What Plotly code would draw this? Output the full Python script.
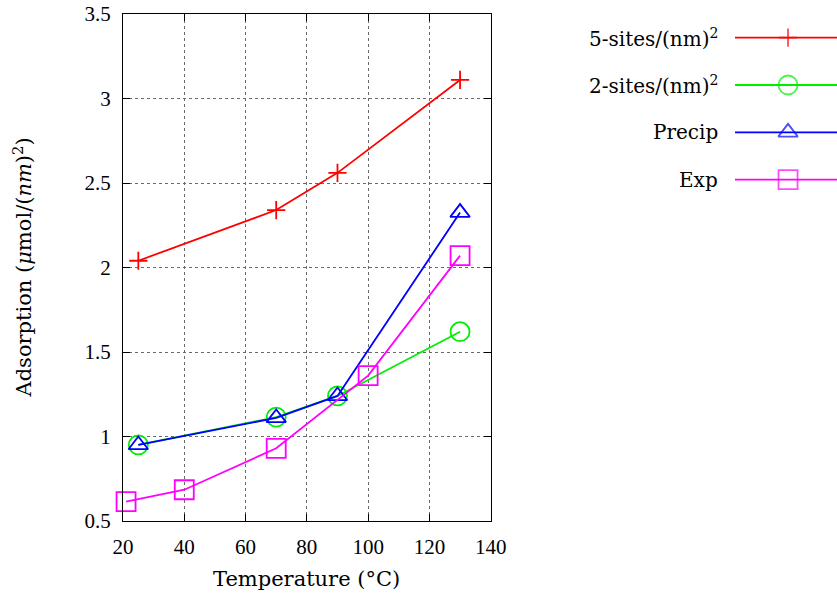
import plotly.graph_objects as go

# Temperature (°C) and adsorption (µmol/nm²) for each model / measurement
t_sites5 = [25, 70, 90, 130]
y_sites5 = [2.04, 2.34, 2.56, 3.11]

t_sites2 = [25, 70, 90, 130]
y_sites2 = [0.95, 1.115, 1.24, 1.62]

t_precip = [25, 70, 90, 130]
y_precip = [0.95, 1.11, 1.24, 2.325]

t_exp = [21, 40, 70, 100, 130]
y_exp = [0.615, 0.685, 0.93, 1.36, 2.07]

series_names = ["5-sites/(nm)<sup>2</sup>", "2-sites/(nm)<sup>2</sup>", "Precip", "Exp"]
series_colors = ["#ff0000", "#00ee00", "#0000ff", "#ff00ff"]
series_symbols = ["cross-thin-open", "circle-open", "triangle-up-open", "square-open"]
series_sizes = [13, 19, 17, 19]

x_ticks = [20, 40, 60, 80, 100, 120, 140]
y_ticks = [0.5, 1, 1.5, 2, 2.5, 3, 3.5]

TEXT_FONT = "DejaVu Serif"
NUM_FONT = "Liberation Serif"
W, H = 837, 603
ML, MR, MT, MB = 123, 0, 14, 81.5
plot_w = 490.7 - ML
paper_w = W - ML - MR
paper_h = H - MT - MB

fig = go.Figure()

data = [(t_sites5, y_sites5), (t_sites2, y_sites2), (t_precip, y_precip), (t_exp, y_exp)]
for (xs, ys), name, col, sym, sz in zip(data, series_names, series_colors, series_symbols, series_sizes):
    fig.add_trace(go.Scatter(
        x=xs, y=ys, mode="lines+markers", name=name, showlegend=False,
        line=dict(color=col, width=1.8),
        marker=dict(symbol=sym, size=sz, color=col, line=dict(color=col, width=1.8)),
        xaxis="x", yaxis="y", cliponaxis=False,
    ))

# Key: a short line with the marker in its middle, labelled to the left
for i, (name, col, sym, sz) in enumerate(zip(series_names, series_colors, series_symbols, series_sizes)):
    fig.add_trace(go.Scatter(
        x=[0, 0.52, 1], y=[i, i, i], mode="lines+markers", showlegend=False,
        line=dict(color=col, width=1.8),
        marker=dict(symbol=sym, size=[0, sz, 0], color=col, line=dict(color=col, width=1.8)),
        xaxis="x2", yaxis="y2", hoverinfo="skip", cliponaxis=False,
    ))
    fig.add_annotation(
        x=0, y=i, xref="x2", yref="y2", text=name, showarrow=False,
        xanchor="right", yanchor="middle", xshift=-15,
        font=dict(family=TEXT_FONT, size=20, color="#000000"),
    )

# Axis titles
fig.add_annotation(
    x=(plot_w / 2) / paper_w, y=(521.5 - 580) / paper_h, xref="paper", yref="paper",
    text="Temperature (°C)", showarrow=False, xanchor="center", yanchor="middle",
    font=dict(family=TEXT_FONT, size=21, color="#000000"),
)
fig.add_annotation(
    x=(22 - ML) / paper_w, y=0.5, xref="paper", yref="paper", textangle=-90,
    text="Adsorption (<i>μ</i>mol/(<i>nm</i>)<sup>2</sup>)", showarrow=False,
    xanchor="center", yanchor="middle",
    font=dict(family=TEXT_FONT, size=21, color="#000000"),
)

axis_common = dict(
    showline=True, linecolor="#000000", linewidth=1.2, mirror="allticks",
    ticks="inside", ticklen=7, tickcolor="#000000", tickwidth=1,
    showgrid=True, gridcolor="#6a6a6a", griddash="dot", gridwidth=1,
    zeroline=False, ticklabelstandoff=7, automargin=False,
    tickfont=dict(family=NUM_FONT, size=21, color="#000000"),
)

fig.update_layout(
    width=W, height=H, autosize=False, showlegend=False,
    margin=dict(l=ML, r=MR, t=MT, b=MB, autoexpand=False),
    paper_bgcolor="white", plot_bgcolor="white",
    xaxis=dict(domain=[0, plot_w / paper_w], range=[20, 140], tickvals=x_ticks, **axis_common),
    yaxis=dict(range=[0.5, 3.5], tickvals=y_ticks,
               ticktext=[("%g" % v) for v in y_ticks], **axis_common),
    xaxis2=dict(domain=[(735 - ML) / paper_w, 1], range=[0, 1], visible=False,
                anchor="y2", automargin=False),
    yaxis2=dict(domain=[0, 1], range=[10.21, -0.5], visible=False,
                anchor="x2", automargin=False),
)

fig.write_html("out.html", config={"responsive": False})
